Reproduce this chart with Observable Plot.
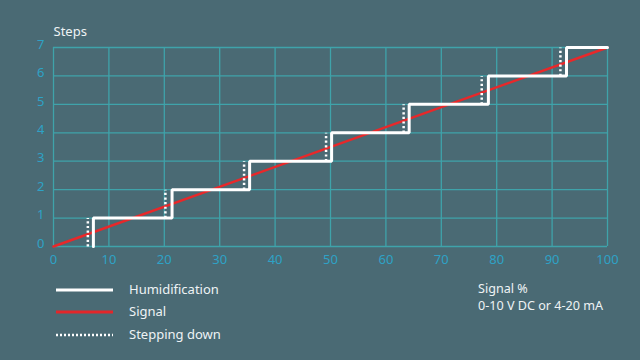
<!DOCTYPE html>
<html>
<head>
<meta charset="utf-8">
<script src="https://cdn.jsdelivr.net/npm/d3@7"></script>
<script src="https://cdn.jsdelivr.net/npm/@observablehq/plot@0.6"></script>
<style>
  html, body { margin: 0; padding: 0; background: #4a6a74; }
  #wrap { position: relative; width: 640px; height: 360px; background: #4a6a74; font-family: "Noto Sans", "Open Sans", sans-serif; overflow: hidden; }
  .leg { position: absolute; color: #eef3f4; font-size: 13px; line-height: 15px; white-space: nowrap; }
  .note { font-size: 12.6px; line-height: 14px; }
  .legline { position: absolute; left: 56px; width: 57px; height: 4px; }
</style>
</head>
<body>
<div id="wrap"></div>
<script>
// Data
const xTicks = [0, 10, 20, 30, 40, 50, 60, 70, 80, 90, 100];
const yTicks = [0, 1, 2, 3, 4, 5, 6, 7];
const stepUpX = [7.2, 21.4, 35.4, 50.2, 64.2, 78.5, 92.6];   // humidification step-up positions (signal %)
const stepDownX = [6.2, 20.2, 34.4, 49.2, 63.2, 77.3, 91.5]; // stepping-down positions (signal %)
const stepLevels = [1, 2, 3, 4, 5, 6, 7];
const signalX = [0, 100];
const signalY = [0, 7];
const noteLines = ["Signal %", "0-10 V DC or 4-20 mA"];

// Build humidification stepped path
const humid = [{x: stepUpX[0], y: 0}];
stepUpX.forEach((sx, i) => {
  humid.push({x: sx, y: stepLevels[i]});
  humid.push({x: i + 1 < stepUpX.length ? stepUpX[i + 1] : 100, y: stepLevels[i]});
});
const down = stepDownX.map((sx, i) => ({x: sx, y1: stepLevels[i] - 1, y2: stepLevels[i]}));
const signal = signalX.map((x, i) => ({x, y: signalY[i]}));

const gridColor = "#3fa3aa";
const tickColor = "#2ea2c6";

const chart = Plot.plot({
  width: 640,
  height: 270,
  marginLeft: 53,
  marginRight: 33,
  marginTop: 47,
  marginBottom: 24,
  style: {background: "transparent", fontFamily: "'Noto Sans', sans-serif", fontSize: "13px", overflow: "visible"},
  x: {domain: [0, 100], ticks: xTicks, label: null},
  y: {domain: [0, 7], ticks: yTicks, label: null},
  marks: [
    Plot.gridX(xTicks, {stroke: gridColor, strokeOpacity: 1, strokeWidth: 1.3}),
    Plot.gridY(yTicks, {stroke: gridColor, strokeOpacity: 1, strokeWidth: 1.3}),
    Plot.axisX(xTicks, {tickSize: 0, tickPadding: 8, color: tickColor, fontSize: 13, label: null}),
    Plot.axisY(yTicks, {tickSize: 0, tickPadding: 9, color: tickColor, fontSize: 13, dy: -3, label: null}),
    Plot.line(signal, {x: "x", y: "y", stroke: "#e8282a", strokeWidth: 2.5}),
    Plot.link(down, {x1: "x", x2: "x", y1: "y1", y2: "y2", stroke: "#ffffff", strokeWidth: 2.5, strokeDasharray: "2.2,2.4"}),
    Plot.line(humid, {x: "x", y: "y", stroke: "#ffffff", strokeWidth: 3, strokeLinejoin: "miter", curve: "linear"}),
    Plot.text(["Steps"], {frameAnchor: "top-left", dy: -21, textAnchor: "start", fill: "#eef3f4", fontSize: 13})
  ]
});
const wrap = document.getElementById("wrap");
wrap.appendChild(chart);

// Legend
const legendItems = [
  {label: "Humidification", y: 290, color: "#ffffff", dash: null},
  {label: "Signal", y: 312, color: "#e3262a", dash: null},
  {label: "Stepping down", y: 335, color: "#ffffff", dash: "2,2"}
];
legendItems.forEach(it => {
  const s = d3.create("svg").attr("width", 57).attr("height", 4)
    .attr("class", "legline").style("top", (it.y - 2) + "px");
  s.append("line").attr("x1", 0).attr("x2", 57).attr("y1", 2).attr("y2", 2)
    .attr("stroke", it.color).attr("stroke-width", it.dash ? 2.5 : 3)
    .attr("stroke-dasharray", it.dash);
  wrap.appendChild(s.node());
  const t = document.createElement("div");
  t.className = "leg";
  t.style.left = "129px";
  t.style.top = (it.y - 8) + "px";
  t.textContent = it.label;
  wrap.appendChild(t);
});
noteLines.forEach((line, i) => {
  const d = document.createElement("div");
  d.className = "leg note";
  d.style.left = "478px";
  d.style.top = (282 + i * 17) + "px";
  d.textContent = line;
  wrap.appendChild(d);
});
</script>
</body>
</html>
